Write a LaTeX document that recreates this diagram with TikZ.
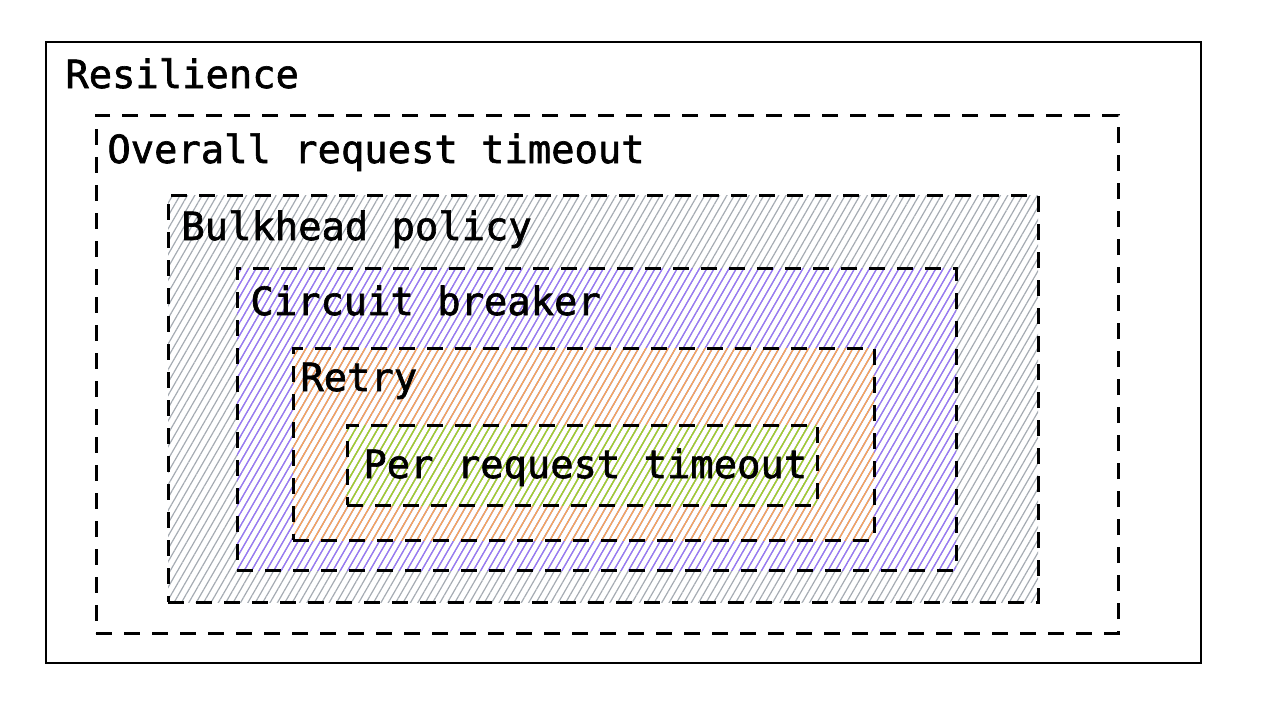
\documentclass[tikz,border=0pt]{standalone}
\usepackage{fontspec}
\setmonofont[FakeBold=1.6, AutoFakeBold=1.6]{DejaVu Sans Mono}
\usetikzlibrary{patterns.meta,fit}
\definecolor{hgray}{HTML}{A5ABB2}
\definecolor{hviolet}{HTML}{9775FA}
\definecolor{horange}{HTML}{FFA94D}
\definecolor{hgreen}{HTML}{94D82D}

\begin{document}
\begin{tikzpicture}[
  x=0.5pt, y=-0.5pt,
  font=\ttfamily\bfseries\fontsize{19.4}{23}\selectfont,
  outer/.style={draw=black, line width=1pt, inner sep=0pt},
  layer/.style={draw=black, line width=1.5pt, dash pattern=on 8pt off 6pt,
                inner sep=0pt},
  hatch/.style={layer, pattern={Lines[angle=60, distance=3.2pt, line width=0.6pt]},
                pattern color=#1},
  lab/.style={anchor=base west, inner sep=0pt}
]
\useasboundingbox (0,0) rectangle (1262,712);

% ---------------- nested policy boxes, outside in ----------------
\node[outer, fit={(46,42) (1201,663)}] (resil) {};
\node[layer, fit={(96,115) (1118,633)}] (overall) {};
\node[hatch=hgray, fit={(168,195) (1038,602)}] (bulk) {};
\node[hatch=hviolet, fit={(237,268) (956,570)}] (breaker) {};
\node[hatch=horange, fit={(293,348) (874,540)}] (retry) {};
\node[hatch=hgreen, fit={(347,425) (817,505)}] (perreq) {};

% ---------------- labels ----------------
\node[lab] (resil-lab) at (65,88) {Resilience};
\node[lab] (overall-lab) at (107,163) {Overall request timeout};
\node[lab] (bulk-lab) at (181,240) {Bulkhead policy};
\node[lab] (breaker-lab) at (250,315) {Circuit breaker};
\node[lab] (retry-lab) at (300,391) {Retry};
\node[lab] (perreq-lab) at (363,478) {Per request timeout};

\end{tikzpicture}
\end{document}
